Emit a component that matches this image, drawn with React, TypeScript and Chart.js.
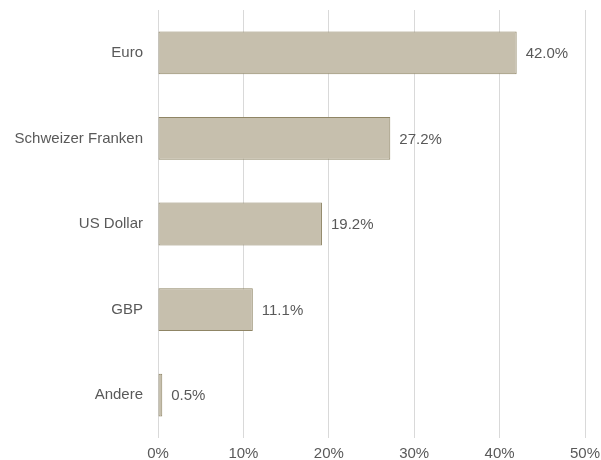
import React, { useEffect, useRef } from "react";
import { Chart, registerables } from "chart.js";

Chart.register(...registerables);

const categories = ["Euro", "Schweizer Franken", "US Dollar", "GBP", "Andere"];
const values = [42.0, 27.2, 19.2, 11.1, 0.5];
const xTicks = [0, 10, 20, 30, 40, 50];

const FONT = "'Liberation Sans', Arial, sans-serif";
const FS = 15;

const valueLabels = {
  id: "valueLabels",
  afterDatasetsDraw(chart: any) {
    const { ctx } = chart;
    const meta = chart.getDatasetMeta(0);
    ctx.save();
    ctx.font = `${FS}px ${FONT}`;
    ctx.fillStyle = "#595959";
    ctx.textAlign = "left";
    ctx.textBaseline = "middle";
    meta.data.forEach((bar: any, i: number) => {
      ctx.fillText(values[i].toFixed(1) + "%", bar.x + 9, bar.y + 1);
    });
    ctx.restore();
  },
};

export default function App() {
  const ref = useRef<HTMLCanvasElement>(null);
  useEffect(() => {
    document.body.style.margin = "0";
    const chart = new Chart(ref.current!, {
      type: "bar",
      data: {
        labels: categories,
        datasets: [
          {
            data: values,
            backgroundColor: "#c6bfad",
            borderColor: "#8f8565",
            borderWidth: 1,
            borderSkipped: false,
            barPercentage: 0.5,
            categoryPercentage: 1,
          },
        ],
      },
      options: {
        indexAxis: "y",
        animation: false,
        responsive: false,
        layout: { padding: { top: 10, right: 16, left: 0, bottom: 0 } },
        plugins: { legend: { display: false }, tooltip: { enabled: false } },
        scales: {
          x: {
            min: 0,
            max: 50,
            afterBuildTicks(scale: any) {
              scale.ticks = xTicks.map((v) => ({ value: v }));
            },
            afterFit(scale: any) {
              scale.height = 22;
              scale.paddingLeft = 0;
              scale.paddingRight = 0;
            },
            grid: { color: "#d9d9d9", drawTicks: false, lineWidth: 1 },
            border: { display: false },
            ticks: {
              color: "#595959",
              font: { family: FONT, size: FS },
              padding: 7,
              callback: (v: any) => v + "%",
            },
          },
          y: {
            afterFit(scale: any) {
              scale.width = 158;
              scale.paddingTop = 0;
              scale.paddingBottom = 0;
            },
            grid: { display: false, drawTicks: false },
            border: { display: false },
            ticks: {
              color: "#595959",
              font: { family: FONT, size: FS },
              padding: 15,
            },
          },
        },
      },
      plugins: [valueLabels],
    });
    return () => chart.destroy();
  }, []);
  return <canvas ref={ref} width={601} height={460} style={{ display: "block" }} />;
}
